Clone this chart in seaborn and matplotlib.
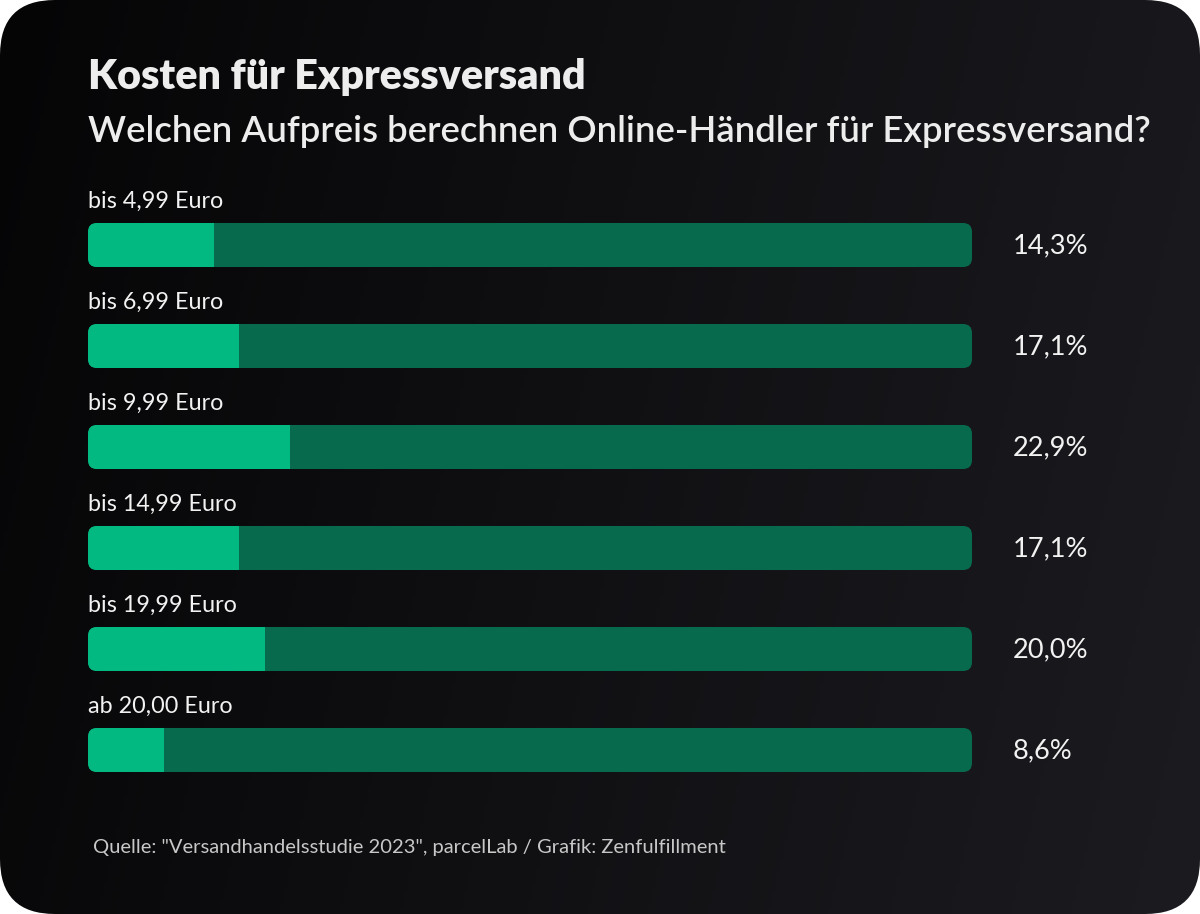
import numpy as np
import matplotlib
matplotlib.use("Agg")
import matplotlib.pyplot as plt
import seaborn as sns
from matplotlib.patches import FancyBboxPatch
from matplotlib.colors import LinearSegmentedColormap

# data
categories = ["bis 4,99 Euro", "bis 6,99 Euro", "bis 9,99 Euro",
              "bis 14,99 Euro", "bis 19,99 Euro", "ab 20,00 Euro"]
shares = [14.3, 17.1, 22.9, 17.1, 20.0, 8.6]
value_labels = ["14,3%", "17,1%", "22,9%", "17,1%", "20,0%", "8,6%"]
track_max = 100

title = "Kosten für Expressversand"
subtitle = "Welchen Aufpreis berechnen Online-Händler für Expressversand?"
source = 'Quelle: "Versandhandelsstudie 2023", parcelLab / Grafik: Zenfulfillment'

FILL = "#02b981"
TRACK = "#086a4d"
FONT = "Lato"

sns.set_theme(style="white")
plt.rcParams["font.family"] = [FONT, "DejaVu Sans"]

W, H = 1200, 914
fig = plt.figure(figsize=(W / 100, H / 100), dpi=100, facecolor="white")

# rounded dark card with a horizontal gradient
bg = fig.add_axes([0, 0, 1, 1])
bg.set_xlim(0, W)
bg.set_ylim(H, 0)
bg.axis("off")
card = FancyBboxPatch((0, 0), W, H, boxstyle="round,pad=0,rounding_size=55",
                      facecolor="none", edgecolor="none")
bg.add_patch(card)
gx = np.linspace(0, 1, 300)[None, :]
gy = np.linspace(0, 1, 200)[:, None]
grad = 0.85 * gx + 0.15 * gy
cmap = LinearSegmentedColormap.from_list("card", ["#050506", "#1c1b20"])
im = bg.imshow(grad, extent=(0, W, H, 0), cmap=cmap, aspect="auto")
im.set_clip_path(card)

# bar area
x0, x1 = 88, 972
top, bottom = 194.5, 800.5
ax = fig.add_axes([x0 / W, (H - bottom) / H, (x1 - x0) / W, (bottom - top) / H])
ax.set_facecolor("none")

sns.barplot(x=[track_max] * len(categories), y=categories, orient="h",
            color=TRACK, width=0.436, ax=ax, saturation=1)
n_track = len(ax.patches)
sns.barplot(x=shares, y=categories, orient="h", color=FILL,
            width=0.436, ax=ax, saturation=1)
ax.set_xlim(0, track_max)
ax.set_ylim(len(categories) - 0.5, -0.5)

# replace plain rectangles by rounded shapes
px_per_x = (x1 - x0) / track_max
px_per_y = (bottom - top) / len(categories)
r_px = 9
rs = r_px / px_per_x
asp = (r_px / px_per_y) / rs
bars = list(ax.patches)
for p in bars:
    p.set_visible(False)
tracks = []
for p in bars[:n_track]:
    fb = FancyBboxPatch((p.get_x(), p.get_y()), p.get_width(), p.get_height(),
                        boxstyle=f"round,pad=0,rounding_size={rs}",
                        mutation_aspect=asp, facecolor=TRACK, edgecolor="none")
    ax.add_patch(fb)
    tracks.append(fb)
for p, tr in zip(bars[n_track:], tracks):
    fb = plt.Rectangle((p.get_x(), p.get_y()), p.get_width(), p.get_height(),
                       facecolor=FILL, edgecolor="none")
    ax.add_patch(fb)
    fb.set_clip_path(tr)

ax.axis("off")

for i, (cat, lab) in enumerate(zip(categories, value_labels)):
    ax.text(0, i - 0.43, cat, ha="left", va="center", fontsize=16.8,
            color="#f2f2f2", clip_on=False)
    ax.text(104.6, i + 0.01, lab, ha="left", va="center", fontsize=19.6,
            color="#f2f2f2", clip_on=False)

fig.text(88 / W, 1 - 77 / H, title, ha="left", va="center", fontsize=29.7,
         fontweight="heavy", color="#ededed")
fig.text(88 / W, 1 - 132 / H, subtitle, ha="left", va="center", fontsize=26.3,
         fontweight="semibold", color="#ededed")
fig.text(93 / W, 1 - 847 / H, source, ha="left", va="center", fontsize=14.5,
         fontweight="normal", color="#c8c8c8")

fig.savefig("out.png", dpi=100, facecolor="white")
